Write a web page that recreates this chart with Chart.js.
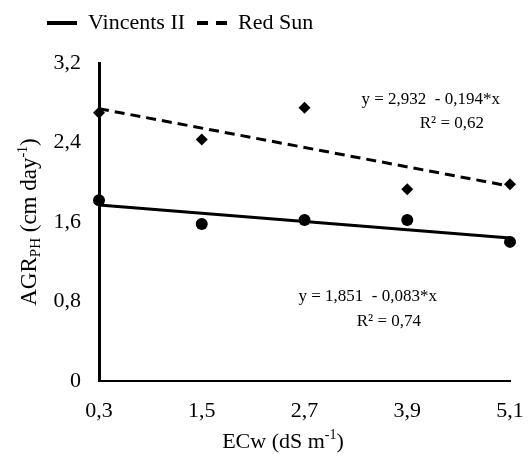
<!DOCTYPE html>
<html>
<head>
<meta charset="utf-8">
<script src="https://cdn.jsdelivr.net/npm/chart.js@4.4.0/dist/chart.umd.min.js"></script>
<style>
  html, body { margin: 0; padding: 0; background: #fff; }
  #wrap { width: 531px; height: 460px; }
</style>
</head>
<body>
<div id="wrap"><canvas id="chart" width="531" height="460"></canvas></div>
<script>
// Data
const ecwLabels = ['0,3', '1,5', '2,7', '3,9', '5,1'];
const vincentsValues = [1.82, 1.58, 1.62, 1.62, 1.40];
const redSunValues = [2.70, 2.43, 2.75, 1.93, 1.98];
// fitted lines, values at the first and last level
const vincentsTrend = [1.77, 1.44];
const redSunTrend = [2.74, 1.96];
const yTicks = [0, 0.8, 1.6, 2.4, 3.2];

const serif = '"Liberation Serif", "Times New Roman", serif';

function trendData(ends){
  const d = new Array(ecwLabels.length).fill(null);
  d[0] = ends[0];
  d[d.length - 1] = ends[1];
  return d;
}

function fmt(v){
  return v === 0 ? '0' : v.toFixed(1).replace('.', ',');
}

// pieces of text with sub / superscripts
function drawRich(ctx, parts, x, y){
  let cx = x;
  parts.forEach(p => {
    ctx.font = p.size + 'px ' + serif;
    ctx.fillText(p.t, cx, y + (p.dy || 0));
    cx += ctx.measureText(p.t).width;
  });
}
function richWidth(ctx, parts){
  let w = 0;
  parts.forEach(p => {
    ctx.font = p.size + 'px ' + serif;
    w += ctx.measureText(p.t).width;
  });
  return w;
}

const textPlugin = {
  id: 'texts',
  afterDraw(chart){
    const ctx = chart.ctx;
    const area = chart.chartArea;
    ctx.save();
    ctx.fillStyle = '#000';
    ctx.textBaseline = 'alphabetic';

    // equations
    ctx.font = '17px ' + serif;
    ctx.textAlign = 'right';
    ctx.fillText('y = 2,932  - 0,194*x', 500, 104);
    ctx.fillText('R² = 0,62', 484, 128);
    ctx.fillText('y = 1,851  - 0,083*x', 437, 301);
    ctx.fillText('R² = 0,74', 421, 326);
    ctx.textAlign = 'left';

    // y title
    const yParts = [
      {t: 'AGR', size: 23},
      {t: 'PH', size: 15, dy: 4},
      {t: ' (cm day', size: 23},
      {t: '-1', size: 14, dy: -9},
      {t: ')', size: 23}
    ];
    const yw = richWidth(ctx, yParts);
    ctx.save();
    ctx.translate(36, (area.top + area.bottom) / 2);
    ctx.rotate(-Math.PI / 2);
    drawRich(ctx, yParts, -yw / 2, 0);
    ctx.restore();

    // x title
    const xParts = [
      {t: 'ECw (dS m', size: 22},
      {t: '-1', size: 14, dy: -9},
      {t: ')', size: 22}
    ];
    const xw = richWidth(ctx, xParts);
    drawRich(ctx, xParts, 283 - xw / 2, 448);
    ctx.restore();
  }
};

const ctx = document.getElementById('chart').getContext('2d');
new Chart(ctx, {
  type: 'line',
  data: {
    labels: ecwLabels,
    datasets: [
      {
        label: 'Vincents II data', data: vincentsValues, showLine: false,
        pointStyle: 'circle', pointRadius: 6, pointBackgroundColor: '#000', pointBorderColor: '#000', pointBorderWidth: 0
      },
      {
        label: 'Red Sun data', data: redSunValues, showLine: false,
        pointStyle: 'rectRot', pointRadius: 6, pointBackgroundColor: '#000', pointBorderColor: '#000', pointBorderWidth: 0
      },
      {
        label: 'Vincents II', data: trendData(vincentsTrend), spanGaps: true,
        borderColor: '#000', borderWidth: 3, pointRadius: 0, tension: 0
      },
      {
        label: 'Red Sun', data: trendData(redSunTrend), spanGaps: true,
        borderColor: '#000', borderWidth: 3, borderDash: [10, 6], pointRadius: 0, tension: 0
      }
    ]
  },
  options: {
    responsive: false,
    animation: false,
    clip: false,
    layout: { padding: { left: 35, top: 0, right: 0, bottom: 0 } },
    plugins: {
      legend: {
        position: 'top',
        align: 'start',
        labels: {
          // only the fitted lines go in the legend
          generateLabels(chart){
            const items = Chart.defaults.plugins.legend.labels.generateLabels(chart);
            return items.filter(i => i.datasetIndex >= 2).map(i => Object.assign(i, {
              lineWidth: 4,
              lineDash: i.datasetIndex === 3 ? [11, 8] : []
            }));
          },
          usePointStyle: true,
          pointStyle: 'line',
          pointStyleWidth: 30,
          color: '#000',
          padding: 12,
          font: { family: serif, size: 22 }
        }
      },
      // empty subtitle used as a gap between legend and plot
      subtitle: {
        display: true,
        text: '',
        position: 'top',
        weight: 500,
        padding: 0,
        font: { size: 19, lineHeight: 1 }
      },
      tooltip: { enabled: false }
    },
    scales: {
      x: {
        type: 'category',
        offset: false,
        grid: { display: false, drawTicks: false },
        border: { color: '#000', width: 2 },
        ticks: { color: '#000', padding: 17, font: { family: serif, size: 22 }, maxRotation: 0 },
        afterFit(scale){
          scale.height = 79;
          scale.paddingRight = 21;
        }
      },
      y: {
        min: 0,
        max: 3.2,
        grid: { display: false, drawTicks: false },
        border: { color: '#000', width: 3 },
        afterBuildTicks(scale){
          scale.ticks = yTicks.map(v => ({ value: v }));
        },
        ticks: {
          color: '#000', padding: 18,
          font: { family: serif, size: 22 },
          callback: v => fmt(v)
        },
        afterFit(scale){
          scale.width = 64;
        }
      }
    }
  },
  plugins: [textPlugin]
});
</script>
</body>
</html>
